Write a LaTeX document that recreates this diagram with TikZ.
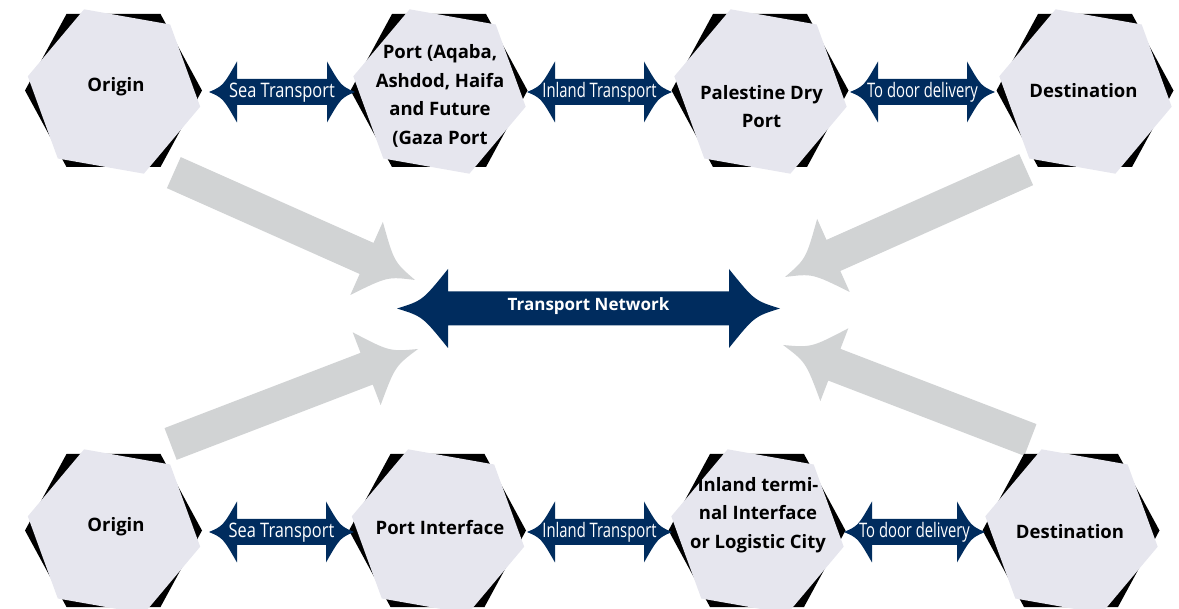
\documentclass[tikz,border=0pt]{standalone}
\usepackage{fontspec}
\newfontfamily\hexfont{Open Sans}
\newfontfamily\condfont[FakeStretch=0.74]{Open Sans}
\newfontfamily\condwide[FakeStretch=0.82]{Open Sans}
\definecolor{navy}{RGB}{0,44,94}
\definecolor{hexfill}{RGB}{230,230,238}
\definecolor{flowgrey}{RGB}{209,211,212}

\tikzset{
  hexlabel/.style={font=\hexfont\bfseries\fontsize{18.5}{28.5}\selectfont, align=center,
    inner sep=0pt, text=black, execute at begin node=\strut, execute at end node=\strut},
  linklabel/.style={font=\condfont\fontsize{20}{24}\selectfont, text=white, inner sep=0pt, anchor=base},
  netlabel/.style={font=\hexfont\bfseries\fontsize{17}{20}\selectfont, text=white, inner sep=0pt, anchor=base},
  % dark flat-topped hexagon with a light face turned 10 degrees over it
  pics/hexcell/.style={code={
    \fill[black] (-88.5,0) -- (-47,-76.5) -- (47,-76.5) -- (88.5,0) -- (47,76.5) -- (-47,76.5) -- cycle;
    \fill[hexfill] (86.7,16.2) -- (30.4,83.2) -- (-55.7,68) -- (-85.7,-14.2)
      -- (-29.4,-81.2) -- (56.7,-66) -- cycle;}},
  % horizontal double block arrow with concave heads:
  % #1 half length, #2 head length, #3 head half width, #4 shaft half width
  pics/dblarrow/.style n args={4}{code={
    \fill[navy] (-#1,0) .. controls ({-#1+0.5*#2},{0.2*#3}) .. ({-#1+#2},{#3})
      -- ({-#1+#2},{#4}) -- ({#1-#2},{#4}) -- ({#1-#2},{#3})
      .. controls ({#1-0.5*#2},{0.2*#3}) .. (#1,0)
      .. controls ({#1-0.5*#2},{-0.2*#3}) .. ({#1-#2},{-#3})
      -- ({#1-#2},{-#4}) -- ({-#1+#2},{-#4}) -- ({-#1+#2},{-#3})
      .. controls ({-#1+0.5*#2},{-0.2*#3}) .. (-#1,0) -- cycle;}},
  % single block arrow, tip at origin pointing along +x:
  % #1 total length, #2 head length, #3 head half width, #4 shaft half width
  pics/flowarrow/.style n args={4}{code={
    \fill[flowgrey] (0,0) .. controls ({-0.5*#2},{0.2*#3}) .. (-#2,#3)
      -- (-#2,#4) -- (-#1,#4) -- (-#1,-#4) -- (-#2,-#4) -- (-#2,-#3)
      .. controls ({-0.5*#2},{-0.2*#3}) .. (0,0) -- cycle;}},
}

\begin{document}
\begin{tikzpicture}[x=1pt, y=-1pt]
\useasboundingbox (0,0) rectangle (1179,609);

% grey arrows converging on the network
\pic[rotate=-24] at (415,280) {flowarrow={264}{53}{40}{17}};
\pic[rotate=21]  at (418,349) {flowarrow={265}{55}{39}{17}};
\pic[rotate=204] at (785,277) {flowarrow={264}{53}{40}{17}};
\pic[rotate=159] at (783,345) {flowarrow={265}{55}{39}{17}};

% hexagon cells
\foreach \n/\x/\y in {o1/113.5/90.5, p1/439/90.5, d1/760/90.5, e1/1085/90.5,
                      o2/113.5/530.5, p2/437.5/530.5, d2/757/530.5, e2/1071/530.5}{
  \coordinate (\n) at (\x,\y);
  \pic at (\n) {hexcell};
}

% hexagon texts
\node[hexlabel] (t-o1) at (116,86.3) {Origin};
\node[hexlabel] (t-p1) at (440,99) {Port (Aqaba,\\Ashdod, Haifa\\and Future\\(Gaza Port};
\node[hexlabel] (t-d1) at (761.5,111) {Palestine Dry\\Port};
\node[hexlabel] (t-e1) at (1083.5,91.6) {Destination};
\node[hexlabel] (t-o2) at (116,526) {Origin};
\node[hexlabel] (t-p2) at (440,529.3) {Port Interface};
\node[hexlabel] (t-d2) at (758,517) {Inland termi-\\nal Interface\\or Logistic City};
\node[hexlabel] (t-e2) at (1070,532.6) {Destination};

% links between hexagons
\pic at (282,92)    {dblarrow={73}{28}{30.5}{13}};
\pic at (599.5,92)  {dblarrow={72.5}{28}{30.5}{13}};
\pic at (922.5,92)  {dblarrow={72.5}{28}{30.5}{13}};
\pic at (281.5,532) {dblarrow={72.5}{28}{30.5}{13}};
\pic at (599.5,532) {dblarrow={72.5}{28}{30.5}{13}};
\pic at (914.5,532) {dblarrow={70.5}{28}{30.5}{13}};

\node[linklabel, font=\condwide\fontsize{20}{24}\selectfont] (l-s1) at (282,97.5) {Sea Transport};
\node[linklabel] (l-i1) at (599.5,97.5) {Inland Transport};
\node[linklabel] (l-d1) at (922.5,97.5) {To door delivery};
\node[linklabel, font=\condwide\fontsize{20}{24}\selectfont] (l-s2) at (281.5,538) {Sea Transport};
\node[linklabel] (l-i2) at (599.5,538) {Inland Transport};
\node[linklabel] (l-d2) at (914.5,538) {To door delivery};

% central network arrow
\pic at (588.5,308.5) {dblarrow={191.5}{51}{39.5}{17}};
\node[netlabel] (net) at (588.5,310.7) {Transport Network};
\end{tikzpicture}
\end{document}
